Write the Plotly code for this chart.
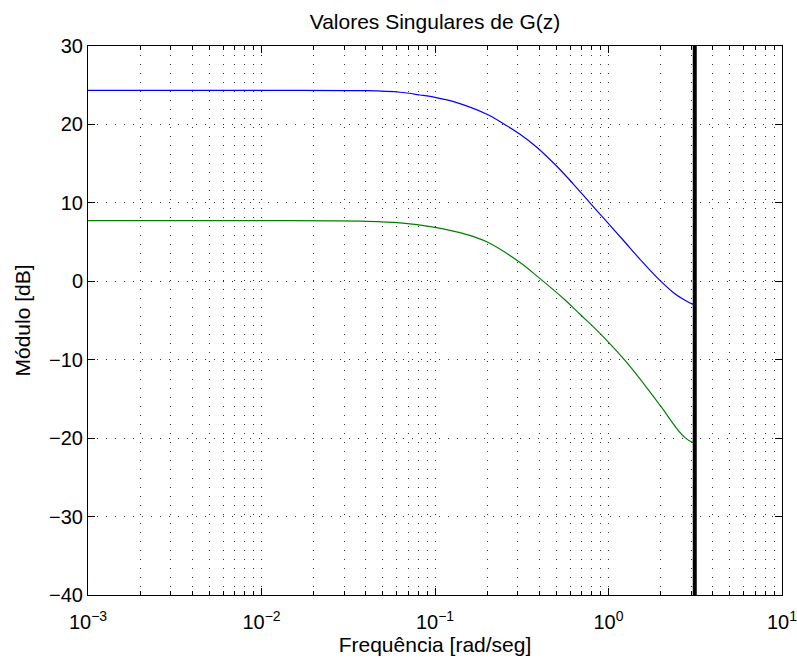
import plotly.graph_objects as go

# ---- data ----
freq_sv1 = [0.001, 0.01, 0.04, 0.063, 0.082, 0.1, 0.128, 0.199, 0.248, 0.309, 0.386,
            0.502, 0.627, 0.782, 0.977, 1.22, 1.52, 1.90, 2.37, 2.70, 3.01, 3.1416]
db_sv1 = [24.35, 24.35, 24.3, 24.1, 23.75, 23.45, 22.9, 21.3, 20.1, 18.75, 17.1,
          14.7, 12.4, 10.0, 7.6, 5.2, 2.8, 0.5, -1.45, -2.3, -2.85, -2.95]

freq_sv2 = [0.001, 0.01, 0.04, 0.063, 0.098, 0.153, 0.2, 0.309, 0.4, 0.55,
            0.685, 0.89, 1.28, 1.98, 2.48, 2.75, 3.02, 3.1416]
db_sv2 = [7.73, 7.73, 7.65, 7.45, 6.9, 5.95, 5.0, 2.4, 0.4, -2.2,
          -4.2, -6.6, -10.4, -15.8, -18.8, -19.9, -20.5, -20.6]

nyquist_freq = 3.1416
y_limits = [-40, 30]

x_tick_vals = [1e-3, 1e-2, 1e-1, 1e0, 1e1]
x_tick_text = ["10<sup>\u22123</sup>", "10<sup>\u22122</sup>", "10<sup>\u22121</sup>",
               "10<sup>0</sup>", "10<sup>1</sup>"]
y_tick_vals = [-40, -30, -20, -10, 0, 10, 20, 30]
x_minor_vals = [m * 10 ** e for e in range(-3, 1) for m in range(2, 10)]

title_text = "Valores Singulares de G(z)"
x_label = "Frequência [rad/seg]"
y_label = "Módulo [dB]"

FONT = "Liberation Sans, Arial, Helvetica, sans-serif"

fig = go.Figure()
fig.add_trace(go.Scatter(x=freq_sv1, y=db_sv1, mode="lines",
                         line=dict(color="#0000ff", width=1.2, shape="spline", smoothing=0.9),
                         showlegend=False, hoverinfo="skip"))
fig.add_trace(go.Scatter(x=freq_sv2, y=db_sv2, mode="lines",
                         line=dict(color="#008000", width=1.2, shape="spline", smoothing=1.0),
                         showlegend=False, hoverinfo="skip"))
fig.add_trace(go.Scatter(x=[nyquist_freq, nyquist_freq], y=y_limits, mode="lines",
                         line=dict(color="black", width=4),
                         showlegend=False, hoverinfo="skip"))

grid_dash = "1px,8px"
grid_col = "#333333"
fig.update_layout(
    width=797, height=659,
    margin=dict(l=88, r=15, t=46, b=64, autoexpand=False),
    paper_bgcolor="white", plot_bgcolor="white",
    font=dict(family=FONT, size=20, color="black"),
    title=dict(text=title_text, x=(88 + 782) / 2 / 797, xanchor="center",
               y=1 - 22 / 659, yanchor="middle", yref="container",
               font=dict(family=FONT, size=21, color="black")),
    xaxis=dict(type="log", range=[-3, 1], tickmode="array", tickvals=x_tick_vals,
               ticktext=x_tick_text, ticks="inside", ticklen=7, tickcolor="black",
               showline=True, linecolor="black", linewidth=1, mirror="ticks",
               showgrid=True, gridcolor=grid_col, griddash=grid_dash, gridwidth=1,
               zeroline=False, automargin=False, ticklabeloverflow="allow",
               ticklabelstandoff=9,
               minor=dict(tickmode="array", tickvals=x_minor_vals, ticks="inside",
                          ticklen=4, tickcolor="black", showgrid=True,
                          gridcolor=grid_col, griddash=grid_dash, gridwidth=1),
               title=dict(text=x_label, standoff=0, font=dict(size=21)),
               tickfont=dict(size=20)),
    yaxis=dict(range=y_limits, tickmode="array", tickvals=y_tick_vals,
               ticks="inside", ticklen=7, tickcolor="black",
               showline=True, linecolor="black", linewidth=1, mirror="ticks",
               showgrid=True, gridcolor=grid_col, griddash=grid_dash, gridwidth=1,
               zeroline=False, automargin=False,
               title=dict(text=y_label, standoff=12, font=dict(size=21)),
               tickfont=dict(size=20)),
)

fig.write_html("out.html")
